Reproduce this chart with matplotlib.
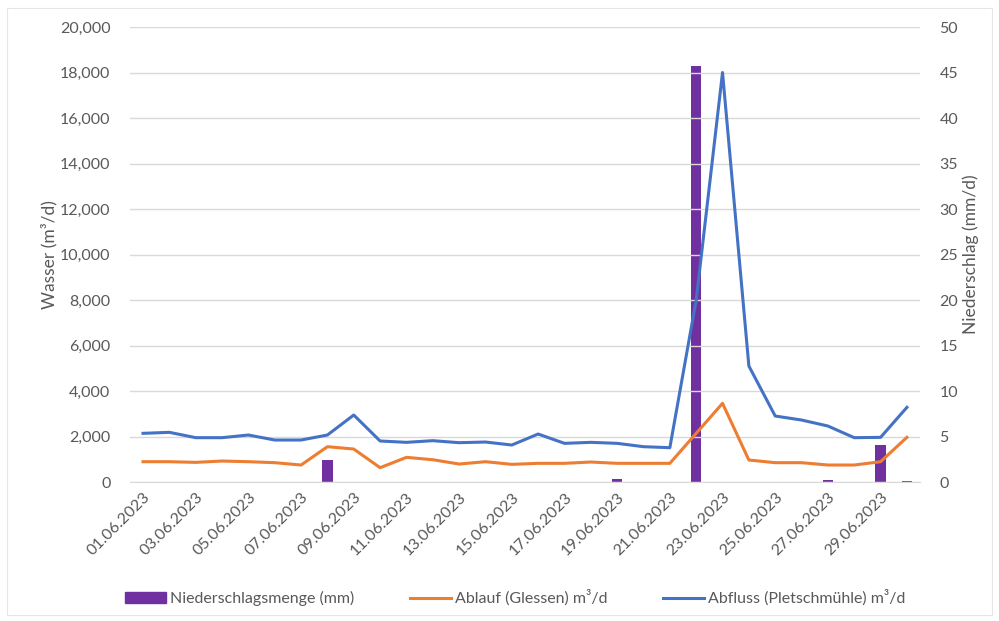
import matplotlib
matplotlib.use("Agg")
import matplotlib.pyplot as plt
from matplotlib.ticker import FuncFormatter, MultipleLocator
from matplotlib.patches import Rectangle, Patch
import numpy as np

dates = [f"{d:02d}.06.2023" for d in range(1, 31)]
niederschlag = [0, 0, 0, 0, 0, 0, 0, 2.4, 0, 0, 0, 0, 0, 0, 0, 0, 0, 0, 0.3, 0,
                0, 45.7, 0, 0, 0, 0, 0.2, 0, 4.1, 0.1]
ablauf = [893, 893, 864, 923, 893, 850, 747, 1553, 1450, 630, 1084, 980, 791, 893, 777,
          821, 821, 879, 821, 821, 821, 2140, 3459, 967, 850, 850, 747, 747, 893, 1963]
abfluss = [2140, 2184, 1949, 1949, 2066, 1846, 1846, 2066, 2945, 1803, 1744, 1817, 1729,
           1758, 1626, 2110, 1700, 1744, 1700, 1553, 1509, 8000, 18000, 5100, 2901, 2725,
           2462, 1949, 1963, 3282]

plt.rcParams['font.family'] = ['Lato', 'DejaVu Sans']
txt = '#595959'

fig = plt.figure(figsize=(9.99, 6.21), dpi=100)
ax = fig.add_axes([0.130, 0.2238, 0.791, 0.7327])
ax2 = ax.twinx()

x = np.arange(len(dates))
ax2.bar(x, niederschlag, width=0.4, color='#7030A0', zorder=2)
l1, = ax.plot(x, ablauf, color='#ED7D31', lw=2.2, label='Ablauf (Glessen) m³/d', zorder=3)
l2, = ax.plot(x, abfluss, color='#4472C4', lw=2.2, label='Abfluss (Pletschmühle) m³/d', zorder=3)

ax.set_zorder(ax2.get_zorder() + 1)
ax.patch.set_visible(False)

ax.set_xlim(-0.5, len(dates) - 0.5)
ax.set_ylim(0, 20000)
ax2.set_ylim(0, 50)
ax.yaxis.set_major_locator(MultipleLocator(2000))
ax2.yaxis.set_major_locator(MultipleLocator(5))
ax.yaxis.set_major_formatter(FuncFormatter(lambda v, p: f"{int(v):,}"))
ax.grid(axis='y', color='#D9D9D9', lw=1)
ax.set_axisbelow(True)

ax.set_xticks(x[::2])
ax.set_xticklabels(dates[::2], rotation=45, ha='right', rotation_mode='anchor')

for a in (ax, ax2):
    for s in a.spines.values():
        s.set_visible(False)
    a.tick_params(length=0, colors=txt, labelsize=11.5)
ax.spines['bottom'].set_visible(True)
ax.spines['bottom'].set_color('#D9D9D9')
ax.tick_params(axis='x', pad=6)
ax.tick_params(axis='y', pad=14)
ax2.tick_params(axis='y', pad=14)

ax.set_ylabel('Wasser (m³/d)', color=txt, fontsize=12.5, labelpad=2)
ax2.set_ylabel('Niederschlag (mm/d)', color=txt, fontsize=12.5, rotation=90, labelpad=3)

h0 = Patch(color='#7030A0', label='Niederschlagsmenge (mm)')
fig.legend(handles=[h0, l1, l2], loc='center', bbox_to_anchor=(515 / 999, 1 - 598 / 621),
           ncol=3, frameon=False, fontsize=11.5, labelcolor=txt, columnspacing=3.5,
           handlelength=2.6, handletextpad=0.2)

fig.patches.append(Rectangle((7 / 999, 6 / 621), 985 / 999, 607 / 621, transform=fig.transFigure,
                             fill=False, edgecolor='#E6E6E6', lw=0.8))

fig.savefig('out.png', dpi=100)
